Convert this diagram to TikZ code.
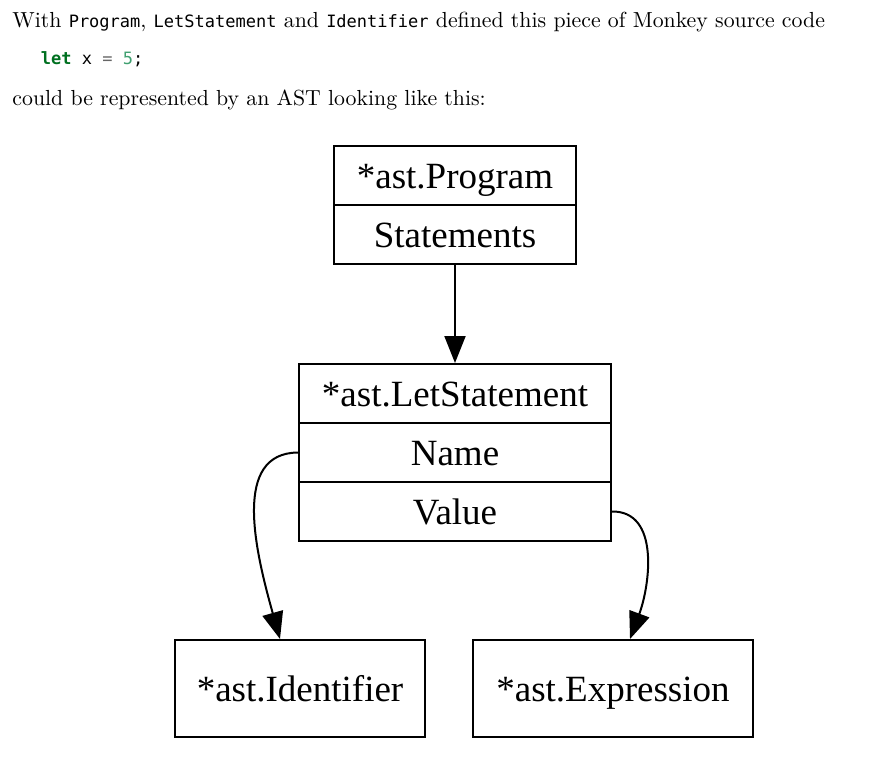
\documentclass[tikz,border=0pt]{standalone}
\usepackage{fontspec}
\usetikzlibrary{arrows.meta}
\newfontfamily\diagfont{Liberation Serif}
\newfontfamily\codefont{DejaVu Sans Mono}
\definecolor{kwgreen}{HTML}{007020}
\definecolor{numgreen}{HTML}{40A070}
\definecolor{opgray}{HTML}{666666}
\newcommand{\mcode}[1]{{\codefont\fontsize{7.8}{9}\selectfont #1}}
\tikzset{
  x=1pt, y=-1pt,
  rowbox/.style={draw, line width=2pt, inner sep=0pt, minimum height=59pt,
    text height=26pt, text depth=0pt, font=\diagfont\fontsize{37}{44}\selectfont},
  leafbox/.style={draw, line width=2pt, inner sep=0pt, minimum height=97pt,
    text height=26pt, text depth=0pt, font=\diagfont\fontsize{37}{44}\selectfont},
  bodytext/.style={anchor=base west, inner sep=0pt, scale=2.18,
    font=\fontsize{10}{12}\selectfont},
  edge/.style={line width=2pt, -{Triangle[length=27pt,width=21pt]}}
}
\begin{document}
\begin{tikzpicture}
\useasboundingbox (0,0) rectangle (874,757);
% text above the diagram
\node[bodytext] (line1) at (12,27.3) {With \mcode{Program}, \mcode{LetStatement} and \mcode{Identifier} defined this piece of Monkey source code};
\node[bodytext] (code) at (40.5,65) {\mcode{\textcolor{kwgreen}{\bfseries let} x \textcolor{opgray}{=} \textcolor{numgreen}{5};}};
\node[bodytext] (line3) at (12,106) {could be represented by an AST looking like this:};
% boxes
\node[rowbox, minimum width=242pt] (progT) at (455,175.5) {*ast.Program};
\node[rowbox, minimum width=242pt] (progS) at (455,234.5) {Statements};
\node[rowbox, minimum width=312pt] (letT) at (455,393.5) {*ast.LetStatement};
\node[rowbox, minimum width=312pt] (letN) at (455,452.5) {Name};
\node[rowbox, minimum width=312pt] (letV) at (455,511.5) {Value};
\node[leafbox, minimum width=250pt] (ident) at (300,688.5) {*ast.Identifier};
\node[leafbox, minimum width=280pt] (expr) at (613,688.5) {*ast.Expression};
% connectors
\draw[edge] (progS.south) -- (letT.north);
\draw[edge] (letN.west) .. controls (232,453) and (255,550) .. ([xshift=-20pt]ident.north);
\draw[edge] (letV.east) .. controls (660,511) and (650,585) .. ([xshift=17pt]expr.north);
\end{tikzpicture}
\end{document}
